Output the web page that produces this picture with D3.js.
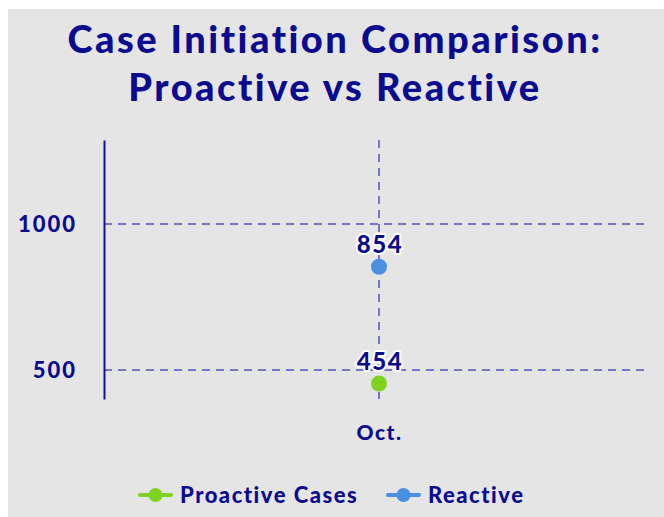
<!DOCTYPE html>
<html>
<head>
<meta charset="utf-8">
<script src="https://cdn.jsdelivr.net/npm/d3@7"></script>
<style>
  body { margin: 0; background: #ffffff; }
  text { font-family: Lato, "Noto Sans", sans-serif; font-weight: 900; }
</style>
</head>
<body>
<script>
const width = 664;
const height = 517;

// data
const months = ["Oct."];
const proactive = [454];
const reactive = [854];
const yTicks = [500, 1000];
const seriesNames = ["Proactive Cases", "Reactive"];
const seriesColors = ["#7ed321", "#4a90e2"];
const titleLines = ["Case Initiation Comparison:", "Proactive vs Reactive"];

const navy = "#0b0b8f";
const marge = {left: 104, right: 10, top: 140, bottom: 118};

var svg = d3.select("body")
    .append("svg")
    .attr("width", width)
    .attr("height", height);

svg.append("rect")
    .attr("x", 8)
    .attr("y", 9)
    .attr("width", width - 8)
    .attr("height", height - 9)
    .attr("fill", "#e5e5e5");

// title
svg.selectAll(".title")
    .data(titleLines)
    .enter()
    .append("text")
      .attr("class", "title")
      .attr("x", 335)
      .attr("y", (d, i) => 53 + i * 48)
      .attr("text-anchor", "middle")
      .attr("font-size", 38)
      .attr("letter-spacing", 2.5)
      .attr("fill", navy)
      .text(d => d);

var xScale = d3.scalePoint()
    .domain(months)
    .range([marge.left, width - marge.right])
    .padding(0.5);

var yScale = d3.scaleLinear()
    .domain([401, 1288])
    .range([height - marge.bottom, marge.top]);

// grid lines
var grid = svg.append("g").attr("class", "grid");
grid.selectAll("line.h")
    .data(yTicks)
    .enter()
    .append("line")
      .attr("x1", marge.left)
      .attr("x2", 648)
      .attr("y1", d => yScale(d))
      .attr("y2", d => yScale(d))
      .attr("stroke", "#7676c6")
      .attr("stroke-width", 2)
      .attr("stroke-dasharray", "8,6");
grid.selectAll("line.v")
    .data(months)
    .enter()
    .append("line")
      .attr("x1", d => xScale(d))
      .attr("x2", d => xScale(d))
      .attr("y1", marge.top)
      .attr("y2", height - marge.bottom)
      .attr("stroke", "#7676c6")
      .attr("stroke-width", 2)
      .attr("stroke-dasharray", "8,6");

// y axis
var yAxis = svg.append("g")
    .attr("transform", "translate(" + marge.left + ",0)")
    .call(d3.axisLeft(yScale).tickValues(yTicks).tickFormat(d3.format("d")).tickSize(0).tickPadding(27));
yAxis.select(".domain").attr("stroke", "#1010a8").attr("stroke-width", 2);
yAxis.selectAll("text")
    .attr("font-size", 22)
    .attr("letter-spacing", 2)
    .attr("fill", navy)
    .attr("font-family", "Lato, sans-serif")
    .attr("font-weight", 900);

// x axis
var xAxis = svg.append("g")
    .attr("transform", "translate(0," + (height - marge.bottom) + ")")
    .call(d3.axisBottom(xScale).tickSize(0).tickPadding(26));
xAxis.select(".domain").remove();
xAxis.selectAll("text")
    .attr("font-size", 21)
    .attr("letter-spacing", 1.5)
    .attr("fill", navy)
    .attr("font-family", "Lato, sans-serif")
    .attr("font-weight", 900);

// points
var series = [proactive, reactive];
series.forEach(function(values, s){
  var pts = months.map((m, i) => ({m: m, v: values[i]}));
  svg.selectAll(".pt" + s)
    .data(pts)
    .enter()
    .append("circle")
      .attr("cx", d => xScale(d.m))
      .attr("cy", d => yScale(d.v))
      .attr("r", 8)
      .attr("fill", seriesColors[s]);
  svg.selectAll(".lbl" + s)
    .data(pts)
    .enter()
    .append("text")
      .attr("x", d => xScale(d.m) + 1)
      .attr("y", d => yScale(d.v) - 14)
      .attr("text-anchor", "middle")
      .attr("font-size", 24)
      .attr("letter-spacing", 1.5)
      .attr("fill", navy)
      .attr("stroke", "#ffffff")
      .attr("stroke-width", 4)
      .attr("paint-order", "stroke")
      .attr("stroke-linejoin", "round")
      .text(d => d.v);
});

// legend
var legendX = [140, 388];
var legend = svg.selectAll(".legend")
    .data(seriesNames)
    .enter()
    .append("g")
      .attr("transform", (d, i) => "translate(" + legendX[i] + ",495)");
legend.append("line")
    .attr("x1", 0).attr("x2", 31)
    .attr("stroke", (d, i) => seriesColors[i])
    .attr("stroke-width", 4)
    .attr("stroke-linecap", "round");
legend.append("circle")
    .attr("cx", 15.5)
    .attr("r", 7)
    .attr("fill", (d, i) => seriesColors[i]);
legend.append("text")
    .attr("x", 40)
    .attr("y", 8)
    .attr("font-size", 22)
    .attr("letter-spacing", 1.5)
    .attr("fill", navy)
    .text(d => d);
</script>
</body>
</html>
